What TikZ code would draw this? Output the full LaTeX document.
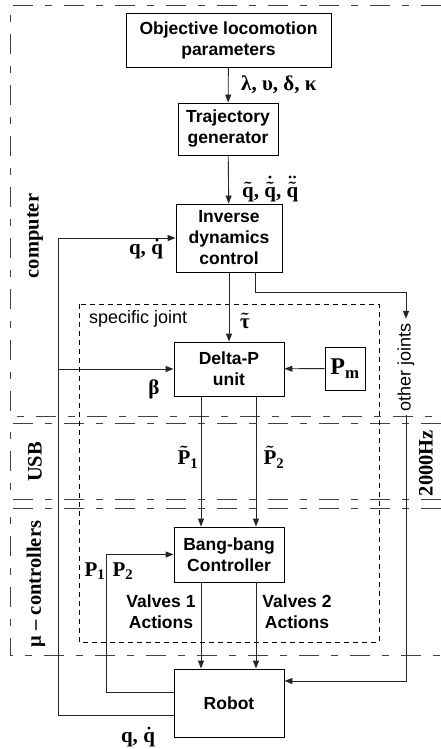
\documentclass[tikz,border=0pt]{standalone}
\usepackage{fontspec}
\setmainfont{Liberation Serif}
\setsansfont{Liberation Sans}
\usepackage{amsmath}
\usetikzlibrary{arrows.meta, positioning, calc}

\begin{document}
\begin{tikzpicture}[x=1pt, y=-1pt,
    block/.style={rectangle, draw=black, line width=0.9pt, align=center,
      inner sep=0pt, font=\sffamily\bfseries\fontsize{17.5}{21}\selectfont},
    lab/.style={inner sep=0pt, font=\bfseries\fontsize{21}{23}\selectfont\boldmath},
    zonelabel/.style={inner sep=0pt, rotate=90,
      font=\bfseries\fontsize{20.5}{22}\selectfont},
    plain/.style={inner sep=0pt, font=\sffamily\fontsize{18}{20}\selectfont},
    region/.style={draw=black!75, line width=1pt,
      dash pattern=on 20pt off 12pt on 7pt off 12pt},
    joint/.style={draw=black, line width=0.8pt, dash pattern=on 5pt off 4pt},
    arr/.style={draw=black!85, line width=0.9pt,
      -{Triangle[length=8pt,width=6pt]}}
  ]
  \useasboundingbox (0,0) rectangle (441,749);

  % regions
  \draw[region] (441,6) -| (10,416) -- (441,416);
  \draw[region] (441,423) -| (10,499) -- (441,499);
  \draw[region] (441,508) -| (10,655) -- (441,655);
  \node[zonelabel] (zcomp) at (35,236) {computer};
  \node[zonelabel] (zusb) at (35,462) {USB};
  \node[zonelabel] (zmu) at (36,584) {μ – controllers};
  \node[zonelabel] (zhz) at (426,463) {2000Hz};

  % specific joint
  \draw[joint] (79,304) rectangle (379,642);
  \node[plain, anchor=west] (sj) at (89,319) {specific joint};

  % blocks
  \node[block, minimum width=205pt, minimum height=54pt] (obj) at (228.5,40)
    {Objective locomotion\\parameters};
  \node[block, minimum width=100pt, minimum height=52pt] (traj) at (228,129)
    {Trajectory\\generator};
  \node[block, minimum width=106pt, minimum height=68pt] (idc) at (229,238)
    {Inverse\\dynamics\\control};
  \node[block, minimum width=110pt, minimum height=54pt] (dp) at (229,369)
    {Delta-P\\unit};
  \node[block, minimum width=40pt, minimum height=43pt,
    font=\bfseries\fontsize{24}{26}\selectfont] (pm) at (345,368.5)
    {$\textbf{P}_{\textbf{m}}$};
  \node[block, minimum width=110pt, minimum height=55pt] (bb) at (229,554.5)
    {Bang-bang\\Controller};
  \node[block, minimum width=110pt, minimum height=68pt] (robot) at (229,703)
    {Robot};
  \node[plain, rotate=90, inner sep=4pt] (oj) at (406,367) {other joints};

  % signals
  \node[lab, anchor=west] (lgreek) at (241,85) {λ, υ, δ, κ};
  \node[lab, anchor=west] (lqt) at (242,189)
    {$\tilde{\textbf{q}}$, $\dot{\tilde{\textbf{q}}}$, $\ddot{\tilde{\textbf{q}}}$};
  \node[lab] (lqtop) at (146,249) {q, $\dot{\textbf{q}}$};
  \node[lab] (ltau) at (245,321) {$\tilde{\textbf{τ}}$};
  \node[lab] (lbeta) at (154,389) {β};
  \node[lab] (lp1t) at (188,457) {$\tilde{\textbf{P}}_{\textbf{1}}$};
  \node[lab] (lp2t) at (274,457) {$\tilde{\textbf{P}}_{\textbf{2}}$};
  \node[lab] (lp1) at (95,571) {$\textbf{P}_{\textbf{1}}$};
  \node[lab] (lp2) at (123,571) {$\textbf{P}_{\textbf{2}}$};
  \node[block, draw=none] (lv1) at (161,612) {Valves 1\\Actions};
  \node[block, draw=none] (lv2) at (297,612) {Valves 2\\Actions};
  \node[lab] (lqbot) at (138,737) {q, $\dot{\textbf{q}}$};

  % connectors
  \coordinate (fb) at (58,715);
  \coordinate (pp) at (106,692);
  \coordinate (ojk) at (406,292);
  \draw[arr] (obj) -- (traj);
  \draw[arr] (traj) -- (idc);
  \draw[arr] (idc) -- (dp);
  \draw[arr] (pm) -- (dp);
  \draw[arr] (dp.west -| fb) -- (dp.west);
  \draw[arr] ([xshift=-28pt]dp.south) -- ([xshift=-28pt]bb.north);
  \draw[arr] ([xshift=27pt]dp.south) -- ([xshift=27pt]bb.north);
  \draw[arr] ([xshift=-28pt]bb.south) -- ([xshift=-28pt]robot.north);
  \draw[arr] ([xshift=27pt]bb.south) -- ([xshift=27pt]robot.north);
  \draw[arr] (robot.west |- fb) -- (fb) |- (idc.west);
  \draw[arr] (robot.west |- pp) -- (pp) |- (bb.west);
  \draw[arr] ([xshift=26pt]idc.south) |- (ojk) -- (oj.east);
  \draw[arr] (oj.west) |- ([yshift=22pt]robot.east);
\end{tikzpicture}
\end{document}
